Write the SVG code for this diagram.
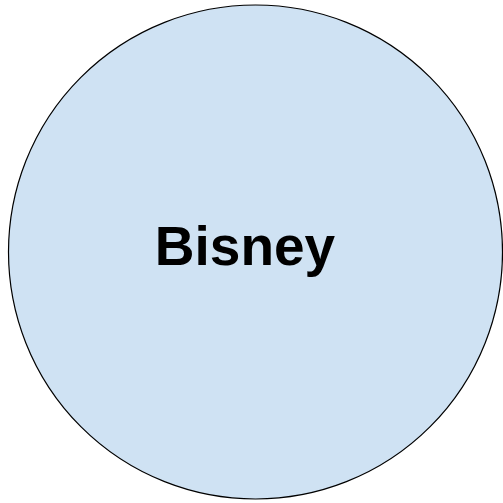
<svg xmlns="http://www.w3.org/2000/svg" width="503" height="503" viewBox="0 0 503 503">
<style>
.node{fill:#cfe2f3;stroke:#000000;stroke-width:1.2}
.lbl{font-family:"Liberation Sans",Arial,sans-serif;font-weight:bold;font-size:55px;fill:#000000}
</style>
<rect width="503" height="503" fill="#ffffff"/>
<g id="connectors"></g>
<g id="bisney">
<circle class="node" cx="255.5" cy="252" r="247"/>
<text class="lbl" x="245" y="265" text-anchor="middle">Bisney</text>
</g>
</svg>
